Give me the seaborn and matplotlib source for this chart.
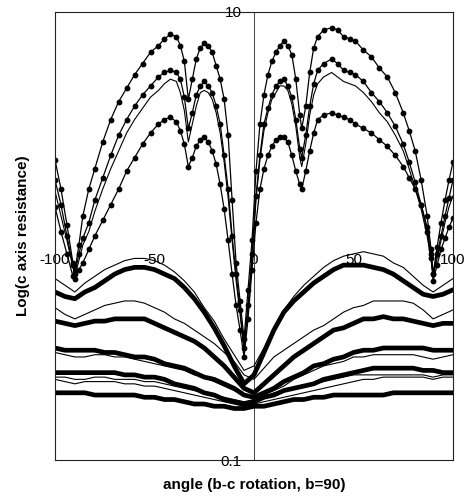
import numpy as np
import pandas as pd
import matplotlib
matplotlib.use("Agg")
import matplotlib.pyplot as plt
from matplotlib.ticker import NullLocator
import seaborn as sns

# ---- angle grids (degrees) ----
angles_top = [-100, -97, -94, -91, -90, -88, -86, -83, -80, -76, -72, -68, -64, -60, -56,
              -52, -48, -45, -42, -39, -37, -35, -33, -31, -29, -27, -25, -23, -21, -19,
              -17, -15, -13, -11, -9, -7, -5, -3, -1, 1, 3, 5, 7, 9, 11,
              13, 15, 17, 19, 21, 23, 24, 26, 28, 30, 32, 35, 39, 42, 45,
              48, 51, 55, 59, 63, 67, 71, 75, 78, 81, 84, 87, 89, 90, 92,
              94, 96, 98, 100]
angles_low = list(range(-100, 101, 5))

# ---- log10 of c axis resistance, upper group (curves with markers + one thin) ----
log_a = [0.34, 0.21, 0.05, -0.12, -0.16, -0.04, 0.09, 0.21, 0.30, 0.42, 0.52, 0.60, 0.66, 0.72, 0.77,
         0.82, 0.85, 0.88, 0.90, 0.89, 0.85, 0.78, 0.61, 0.70, 0.79, 0.84, 0.86, 0.85, 0.82, 0.76,
         0.70, 0.61, 0.45, 0.16, -0.12, -0.29, -0.46, -0.24, -0.02, 0.29, 0.50, 0.63, 0.72, 0.78, 0.82,
         0.85, 0.87, 0.85, 0.81, 0.70, 0.54, 0.48, 0.58, 0.73, 0.84, 0.89, 0.92, 0.93, 0.92, 0.89,
         0.88, 0.87, 0.83, 0.80, 0.75, 0.71, 0.64, 0.55, 0.47, 0.38, 0.25, 0.09, -0.06, -0.17, -0.05,
         0.06, 0.16, 0.25, 0.33]
log_b = [0.25, 0.14, 0.00, -0.13, -0.17, -0.08, -0.01, 0.06, 0.16, 0.26, 0.36, 0.45, 0.52, 0.58, 0.63,
         0.67, 0.71, 0.73, 0.74, 0.73, 0.70, 0.62, 0.48, 0.55, 0.63, 0.67, 0.69, 0.67, 0.64, 0.58,
         0.50, 0.36, 0.21, 0.00, -0.17, -0.33, -0.50, -0.31, -0.08, 0.18, 0.36, 0.50, 0.57, 0.63, 0.67,
         0.69, 0.70, 0.67, 0.62, 0.52, 0.39, 0.35, 0.45, 0.58, 0.68, 0.74, 0.77, 0.79, 0.77, 0.74,
         0.73, 0.72, 0.69, 0.64, 0.60, 0.55, 0.49, 0.41, 0.33, 0.24, 0.14, 0.02, -0.10, -0.17, -0.08,
         0.00, 0.09, 0.17, 0.25]
log_c = [0.20, 0.09, -0.02, -0.14, -0.18, -0.11, -0.04, 0.02, 0.11, 0.21, 0.30, 0.38, 0.46, 0.52, 0.57,
         0.62, 0.65, 0.68, 0.70, 0.69, 0.64, 0.56, 0.42, 0.50, 0.58, 0.64, 0.65, 0.64, 0.61, 0.55,
         0.46, 0.33, 0.17, -0.02, -0.20, -0.35, -0.51, -0.32, -0.11, 0.16, 0.34, 0.47, 0.55, 0.61, 0.64,
         0.67, 0.67, 0.65, 0.59, 0.49, 0.35, 0.31, 0.41, 0.54, 0.63, 0.68, 0.71, 0.73, 0.71, 0.69,
         0.68, 0.67, 0.64, 0.60, 0.55, 0.51, 0.45, 0.38, 0.30, 0.21, 0.12, 0.00, -0.11, -0.18, -0.10,
         -0.02, 0.06, 0.13, 0.18]
log_d = [0.13, 0.02, -0.08, -0.18, -0.19, -0.15, -0.12, -0.06, 0.00, 0.07, 0.14, 0.21, 0.29, 0.35, 0.41,
         0.46, 0.50, 0.52, 0.53, 0.51, 0.47, 0.41, 0.31, 0.35, 0.40, 0.43, 0.44, 0.42, 0.38, 0.32,
         0.23, 0.12, -0.02, -0.17, -0.31, -0.42, -0.54, -0.37, -0.15, 0.06, 0.21, 0.30, 0.36, 0.40, 0.43,
         0.44, 0.44, 0.42, 0.36, 0.29, 0.23, 0.21, 0.29, 0.38, 0.46, 0.52, 0.54, 0.55, 0.54, 0.53,
         0.52, 0.50, 0.48, 0.46, 0.43, 0.40, 0.36, 0.31, 0.26, 0.21, 0.14, 0.04, -0.08, -0.20, -0.13,
         -0.06, -0.01, 0.04, 0.08]

# ---- lower group: thick (e) and thin (t) curves, every 5 degrees ----
log_e1 = [-0.25, -0.27, -0.28, -0.25, -0.23, -0.20, -0.17, -0.15, -0.14, -0.14, -0.15, -0.17, -0.19, -0.23,
          -0.28, -0.34, -0.41, -0.49, -0.58, -0.66, -0.62, -0.52, -0.42, -0.34, -0.29, -0.25, -0.21, -0.18,
          -0.15, -0.13, -0.13, -0.13, -0.14, -0.15, -0.17, -0.20, -0.23, -0.26, -0.27, -0.26, -0.24]
log_t1 = [-0.19, -0.22, -0.25, -0.21, -0.18, -0.15, -0.13, -0.11, -0.10, -0.10, -0.11, -0.13, -0.16, -0.20,
          -0.25, -0.32, -0.38, -0.46, -0.53, -0.60, -0.58, -0.50, -0.41, -0.33, -0.27, -0.22, -0.18, -0.14,
          -0.11, -0.09, -0.08, -0.07, -0.08, -0.09, -0.12, -0.14, -0.18, -0.22, -0.25, -0.22, -0.19]
log_e2 = [-0.38, -0.39, -0.40, -0.39, -0.38, -0.38, -0.37, -0.37, -0.37, -0.37, -0.39, -0.41, -0.43, -0.45,
          -0.47, -0.50, -0.54, -0.58, -0.63, -0.68, -0.70, -0.66, -0.62, -0.58, -0.54, -0.51, -0.48, -0.45,
          -0.42, -0.41, -0.39, -0.37, -0.37, -0.36, -0.37, -0.37, -0.38, -0.39, -0.40, -0.39, -0.39]
log_t2 = [-0.32, -0.35, -0.37, -0.35, -0.33, -0.31, -0.30, -0.29, -0.29, -0.30, -0.32, -0.34, -0.37, -0.39,
          -0.42, -0.45, -0.48, -0.52, -0.56, -0.62, -0.64, -0.59, -0.54, -0.51, -0.48, -0.45, -0.42, -0.40,
          -0.37, -0.34, -0.32, -0.31, -0.29, -0.29, -0.29, -0.29, -0.30, -0.33, -0.37, -0.35, -0.33]
log_e3 = [-0.50, -0.51, -0.51, -0.51, -0.51, -0.52, -0.52, -0.53, -0.54, -0.54, -0.55, -0.57, -0.58, -0.59,
          -0.61, -0.63, -0.64, -0.66, -0.68, -0.71, -0.72, -0.70, -0.68, -0.65, -0.63, -0.61, -0.58, -0.57,
          -0.55, -0.54, -0.52, -0.51, -0.51, -0.50, -0.50, -0.50, -0.50, -0.50, -0.51, -0.51, -0.51]
log_t3 = [-0.52, -0.53, -0.54, -0.54, -0.53, -0.53, -0.54, -0.54, -0.55, -0.56, -0.57, -0.58, -0.59, -0.60,
          -0.62, -0.63, -0.65, -0.67, -0.69, -0.71, -0.73, -0.71, -0.69, -0.67, -0.64, -0.62, -0.60, -0.58,
          -0.57, -0.56, -0.54, -0.54, -0.53, -0.53, -0.53, -0.53, -0.53, -0.54, -0.55, -0.54, -0.53]
log_e4 = [-0.61, -0.61, -0.61, -0.61, -0.61, -0.61, -0.61, -0.62, -0.62, -0.63, -0.63, -0.64, -0.66, -0.67,
          -0.68, -0.70, -0.71, -0.73, -0.74, -0.75, -0.74, -0.72, -0.71, -0.69, -0.68, -0.67, -0.66, -0.64,
          -0.63, -0.62, -0.61, -0.60, -0.59, -0.59, -0.59, -0.59, -0.59, -0.60, -0.60, -0.61, -0.61]
log_t4 = [-0.63, -0.63, -0.64, -0.64, -0.63, -0.63, -0.64, -0.64, -0.64, -0.65, -0.65, -0.66, -0.67, -0.68,
          -0.69, -0.70, -0.71, -0.72, -0.73, -0.74, -0.73, -0.72, -0.70, -0.69, -0.68, -0.67, -0.66, -0.65,
          -0.64, -0.63, -0.62, -0.62, -0.62, -0.62, -0.62, -0.62, -0.62, -0.62, -0.63, -0.62, -0.62]
log_e5 = [-0.70, -0.70, -0.70, -0.70, -0.71, -0.71, -0.71, -0.71, -0.71, -0.72, -0.72, -0.73, -0.73, -0.74,
          -0.75, -0.75, -0.76, -0.76, -0.77, -0.77, -0.76, -0.76, -0.75, -0.74, -0.73, -0.73, -0.72, -0.72,
          -0.71, -0.71, -0.71, -0.71, -0.71, -0.71, -0.70, -0.70, -0.70, -0.70, -0.70, -0.70, -0.70]
log_t5 = [-0.64, -0.65, -0.66, -0.65, -0.65, -0.65, -0.65, -0.66, -0.66, -0.67, -0.67, -0.68, -0.69, -0.70,
          -0.71, -0.72, -0.73, -0.74, -0.75, -0.76, -0.75, -0.74, -0.73, -0.72, -0.71, -0.70, -0.69, -0.68,
          -0.67, -0.66, -0.65, -0.64, -0.64, -0.63, -0.63, -0.63, -0.63, -0.63, -0.64, -0.63, -0.63]

x_ticks = [-100, -50, 0, 50, 100]
x_ticklabels = ["-100", "-50", "0", "50", "100"]
y_ticks = [0.1, 10]
y_ticklabels = ["0.1", "10"]

sns.set_theme(style="white")
plt.rcParams["font.family"] = ["Liberation Sans", "DejaVu Sans"]
plt.rcParams["text.color"] = "black"
plt.rcParams["axes.labelcolor"] = "black"

fig = plt.figure(figsize=(4.66, 4.97), dpi=100)
ax = fig.add_axes([55 / 466, 37 / 497, 398 / 466, 448 / 497])


def draw(angles, logs, lw, marker=None):
    df = pd.DataFrame({"angle": angles, "r": 10 ** np.asarray(logs)})
    kw = dict(marker=marker, markersize=4.2, markeredgewidth=0) if marker else {}
    sns.lineplot(data=df, x="angle", y="r", ax=ax, color="black", lw=lw,
                 estimator=None, sort=False, **kw)


# lower group: thin lines then thick ones
for logs in (log_t1, log_t2, log_t3, log_t4, log_t5):
    draw(angles_low, logs, 0.8)
for logs in (log_e1, log_e2, log_e3, log_e4, log_e5):
    draw(angles_low, logs, 3.4)

# upper group
draw(angles_top, log_c, 0.8)
for logs in (log_a, log_b, log_d):
    draw(angles_top, logs, 0.9, marker="o")

ax.set_yscale("log")
ax.set_xlim(-100, 100)
ax.set_ylim(0.1, 10)
ax.set_xticks([])
ax.set_yticks([])
ax.yaxis.set_minor_locator(NullLocator())
for s in ax.spines.values():
    s.set_color("#222222")
    s.set_linewidth(0.8)

ax.set_xlabel("angle (b-c rotation, b=90)", fontsize=11, fontweight="bold", labelpad=13)
ax.set_ylabel("Log(c axis resistance)", fontsize=11, fontweight="bold", labelpad=18)

# horizontal axis labels, crossing inside the plot
secx = ax.secondary_xaxis(0.469)
secx.set_xticks(x_ticks)
secx.set_xticklabels(x_ticklabels)
secx.tick_params(length=0, pad=2, labelsize=11, colors="black")
secx.spines["bottom"].set_visible(False)
secx.spines["top"].set_visible(False)

# vertical axis at angle 0
secy = ax.secondary_yaxis(0.5)
secy.set_alignment("left")
secy.set_yticks(y_ticks)
secy.set_yticklabels(y_ticklabels)
secy.yaxis.set_minor_locator(NullLocator())
secy.tick_params(length=0, pad=9, labelsize=11, colors="black")
secy.spines["left"].set_color("#444444")
secy.spines["left"].set_linewidth(0.7)

fig.savefig("out.png", dpi=100)
